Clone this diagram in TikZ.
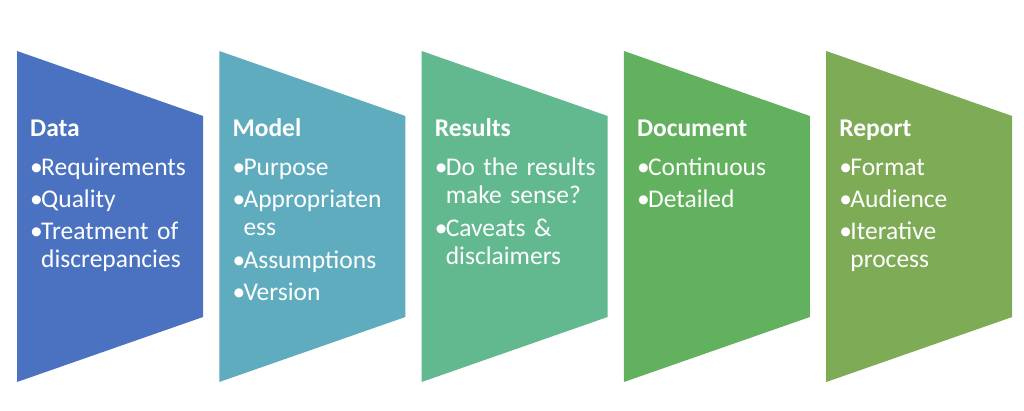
\documentclass[tikz,border=0pt]{standalone}
\usepackage{fontspec}
\setmainfont{Carlito}
\definecolor{c1}{HTML}{4B72C0}
\definecolor{c2}{HTML}{5FACBF}
\definecolor{c3}{HTML}{63B98F}
\definecolor{c4}{HTML}{62B15E}
\definecolor{c5}{HTML}{7EAB55}
\newlength\bulw
\setlength\bulw{11pt}
\newcommand\itm[1]{\par\noindent\makebox[\bulw][l]{•}\begin{tabular}[t]{@{}l@{}}#1\end{tabular}}
\newcommand\ttl[1]{\noindent\strut\textbf{#1}\par\vspace{7pt}}
\tikzset{
  chev/.style={fill=#1, draw=none},
  txt/.style={anchor=north west, inner sep=0pt, text=white, text width=190pt,
    font=\fontsize{25.5}{28}\selectfont\setlength\parskip{4pt}}
}
\begin{document}
\begin{tikzpicture}[x=1pt,y=-1pt]
\useasboundingbox[fill=white] (0,0) rectangle (1024,410);
\foreach \i/\c in {0/c1,1/c2,2/c3,3/c4,4/c5}{
  \pgfmathsetmacro\xl{17+202.3*\i}
  \pgfmathsetmacro\xr{\xl+186}
  \fill[chev=\c] (\xl,51) -- (\xr,116) -- (\xr,317) -- (\xl,382) -- cycle;
}
\node[txt] (t1) at (30,116.4) {\ttl{Data}\itm{Requirements}\itm{Quality}\itm{Treatment of\\discrepancies}};
\node[txt] (t2) at (232.3,116.4) {\ttl{Model}\itm{Purpose}\itm{Appropriaten\\ess}\itm{Assumptions}\itm{Version}};
\node[txt] (t3) at (434.6,116.4) {\ttl{Results}\itm{Do the results\\make sense?}\itm{Caveats \&\\disclaimers}};
\node[txt] (t4) at (636.9,116.4) {\ttl{Document}\itm{Continuous}\itm{Detailed}};
\node[txt] (t5) at (839.2,116.4) {\ttl{Report}\itm{Format}\itm{Audience}\itm{Iterative\\process}};
\end{tikzpicture}
\end{document}
